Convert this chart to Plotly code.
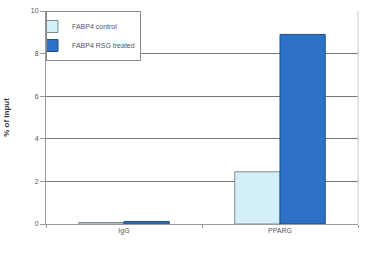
import plotly.graph_objects as go

categories = ["IgG", "PPARG"]
control = [0.07, 2.45]
treated = [0.12, 8.9]
series_names = ["FABP4 control", "FABP4 RSG treated"]
y_ticks = [0, 2, 4, 6, 8, 10]

fig = go.Figure()
fig.add_trace(go.Bar(x=categories, y=control, name=series_names[0],
                     marker=dict(color="#d3f0f9", line=dict(color="#7f8a90", width=1))))
fig.add_trace(go.Bar(x=categories, y=treated, name=series_names[1],
                     marker=dict(color="#2d71c6", line=dict(color="#1f4f8a", width=1))))

fig.update_layout(
    width=377, height=254,
    margin=dict(l=46, r=19, t=11, b=30),
    paper_bgcolor="white", plot_bgcolor="white",
    barmode="group", bargap=0.42, bargroupgap=0,
    font=dict(family="Arial, Liberation Sans, sans-serif", size=7, color="#555"),
    showlegend=True,
    legend=dict(x=0, y=1, xanchor="left", yanchor="top",
                bordercolor="#888", borderwidth=1, bgcolor="white",
                font=dict(size=7, color="#555"),
                itemwidth=30, tracegroupgap=0, indentation=-15),
    xaxis=dict(type="category", showline=True, linecolor="#999", linewidth=1,
               ticks="outside", tickson="boundaries", ticklen=3, tickcolor="#999",
               tickfont=dict(size=7, color="#555"), showgrid=False),
    yaxis=dict(range=[0, 10], tickvals=y_ticks, showline=True, linecolor="#999",
               linewidth=1, ticks="outside", ticklen=5, tickcolor="#999",
               showgrid=True, gridcolor="#777", gridwidth=1, zeroline=False,
               tickfont=dict(size=7, color="#555"), automargin=False,
               title=dict(text="<b>% of input</b>", font=dict(size=8, color="#333"),
                          standoff=20)),
)
fig.add_shape(type="line", xref="paper", yref="paper", x0=1, x1=1, y0=0, y1=1,
              line=dict(color="#ccc", width=1))
fig.write_html("out.html")
